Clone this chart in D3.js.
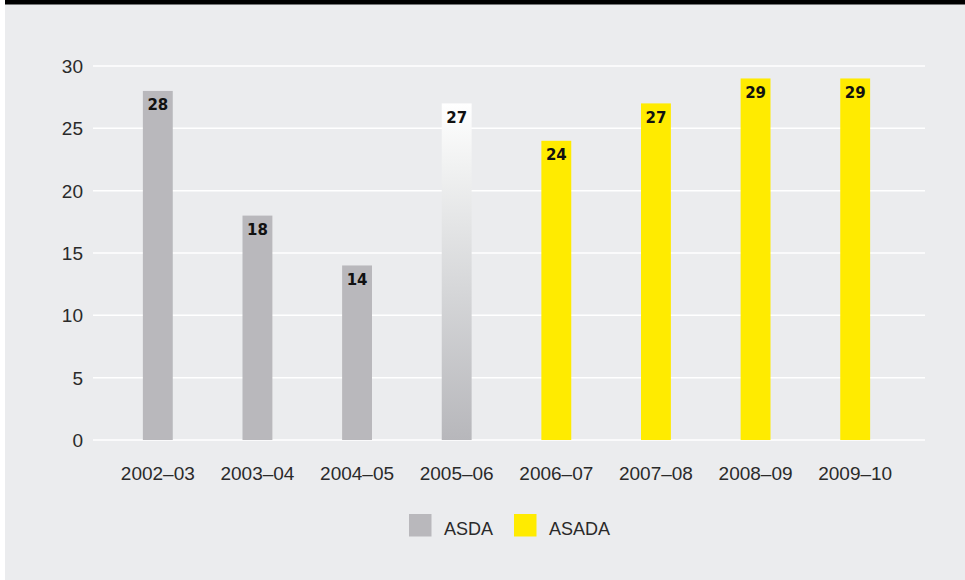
<!DOCTYPE html>
<html>
<head>
<meta charset="utf-8">
<script src="https://cdn.jsdelivr.net/npm/d3@7"></script>
<style>
  html, body { margin: 0; padding: 0; background: #ffffff; }
  svg { display: block; }
  text { font-family: "Liberation Sans", Arial, sans-serif; }
</style>
</head>
<body>
<svg id="chart" width="965" height="580"></svg>
<script>
const categories = ["2002–03", "2003–04", "2004–05", "2005–06", "2006–07", "2007–08", "2008–09", "2009–10"];
const asdaValues = [28, 18, 14, 27, null, null, null, null];
const asadaValues = [null, null, null, null, 24, 27, 29, 29];
const yTicks = [0, 5, 10, 15, 20, 25, 30];
const seriesNames = ["ASDA", "ASADA"];

const W = 965, H = 580;
const svg = d3.select("#chart");

// frame
svg.append("rect").attr("x", 5).attr("y", 0).attr("width", W - 5).attr("height", H).attr("fill", "#ebecee");
svg.append("rect").attr("x", 5).attr("y", 0).attr("width", W - 5).attr("height", 4.5).attr("fill", "#000000");

const defs = svg.append("defs");
const grad = defs.append("linearGradient").attr("id", "fadeGrey")
  .attr("x1", 0).attr("y1", 0).attr("x2", 0).attr("y2", 1);
grad.append("stop").attr("offset", "0%").attr("stop-color", "#ffffff");
grad.append("stop").attr("offset", "18%").attr("stop-color", "#f1f2f2");
grad.append("stop").attr("offset", "55%").attr("stop-color", "#d6d7d9");
grad.append("stop").attr("offset", "100%").attr("stop-color", "#b7b7bb");

const y = d3.scaleLinear().domain([0, 30]).range([440, 66]);
const x = d3.scaleBand().domain(categories).range([108, 905]).paddingInner(0.7).paddingOuter(0.35);

// gridlines
svg.append("g").selectAll("line").data(yTicks).join("line")
  .attr("x1", 93).attr("x2", 925)
  .attr("y1", d => y(d)).attr("y2", d => y(d))
  .attr("stroke", "#ffffff").attr("stroke-width", 1.5);

// y tick labels
svg.append("g").selectAll("text").data(yTicks).join("text")
  .attr("x", 83).attr("y", d => y(d)).attr("dy", "0.36em")
  .attr("text-anchor", "end").attr("font-size", 19).attr("fill", "#2a2a2a")
  .text(d => d);

// x labels
svg.append("g").selectAll("text").data(categories).join("text")
  .attr("x", d => x(d) + x.bandwidth() / 2).attr("y", 480)
  .attr("text-anchor", "middle").attr("font-size", 19).attr("fill", "#2a2a2a")
  .text(d => d);

const barData = categories.map((c, i) => {
  const isAsda = asdaValues[i] != null;
  return { cat: c, value: isAsda ? asdaValues[i] : asadaValues[i], series: isAsda ? 0 : 1, faded: i === 3 };
});

const colors = ["#b9b8bc", "#ffeb00"];

svg.append("g").selectAll("rect").data(barData).join("rect")
  .attr("x", d => x(d.cat)).attr("width", x.bandwidth())
  .attr("y", d => y(d.value)).attr("height", d => y(0) - y(d.value))
  .attr("fill", d => d.faded ? "url(#fadeGrey)" : colors[d.series]);

svg.append("g").selectAll("text").data(barData).join("text")
  .attr("x", d => x(d.cat) + x.bandwidth() / 2).attr("y", d => y(d.value) + 19.5)
  .attr("text-anchor", "middle").attr("font-size", 15).attr("font-weight", "bold")
  .style("font-family", "'DejaVu Sans', sans-serif")
  .attr("fill", "#111111")
  .text(d => d.value);

// legend
const legendX = [409, 514];
const lg = svg.append("g").selectAll("g").data(seriesNames).join("g")
  .attr("transform", (d, i) => `translate(${legendX[i]},514)`);
lg.append("rect").attr("width", 22.5).attr("height", 22.5).attr("fill", (d, i) => colors[i]);
lg.append("text").attr("x", 35).attr("y", 21).attr("font-size", 18).attr("fill", "#2a2a2a").text(d => d);
</script>
</body>
</html>
